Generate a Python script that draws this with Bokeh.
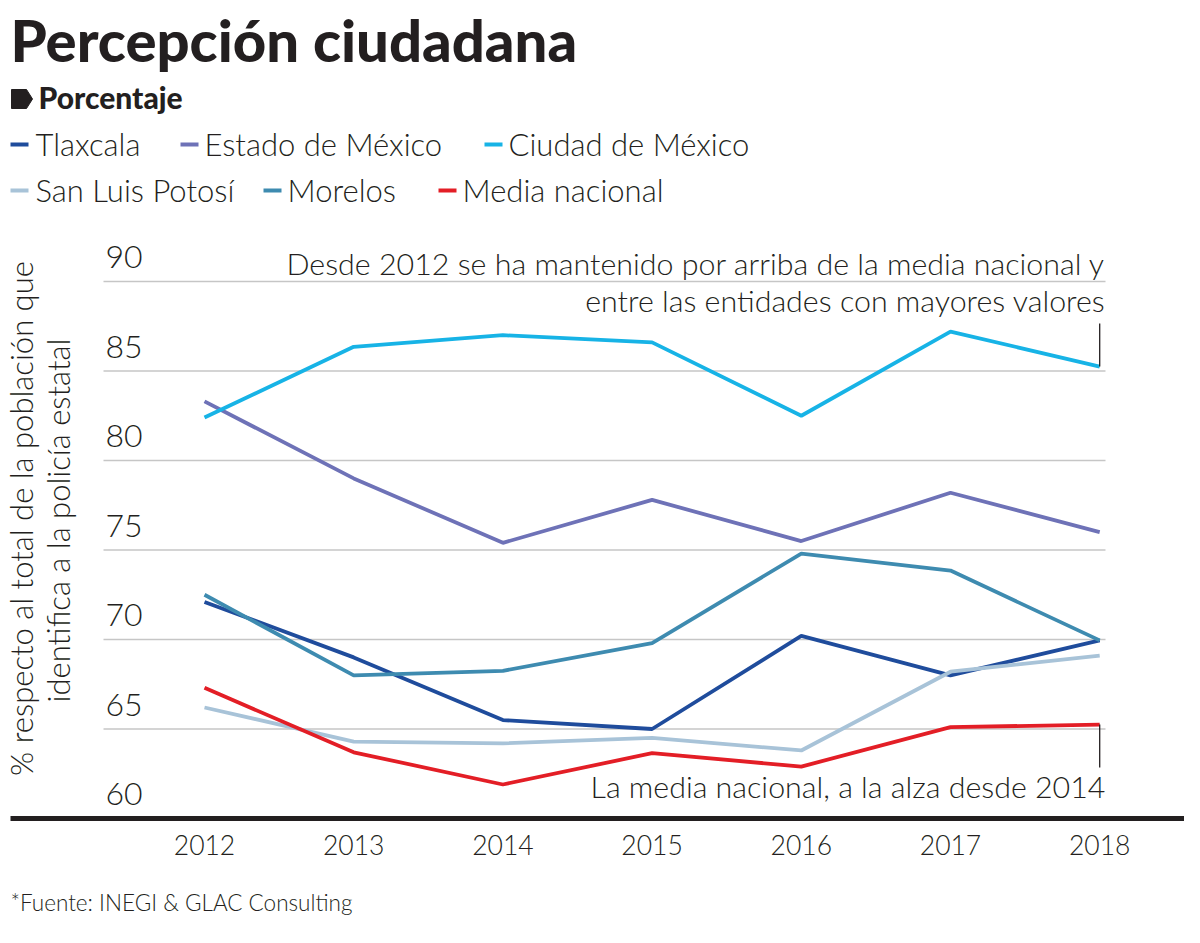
from bokeh.plotting import figure
from bokeh.models import Range1d
from bokeh.core.properties import value
from bokeh.embed import file_html
from bokeh.resources import INLINE
import math

# ---------------- data ----------------
years = [2012, 2013, 2014, 2015, 2016, 2017, 2018]
tlaxcala = [72.1, 69.0, 65.5, 65.0, 70.2, 68.0, 69.95]
estado_mexico = [83.3, 79.0, 75.4, 77.8, 75.5, 78.2, 76.0]
ciudad_mexico = [82.4, 86.35, 87.0, 86.6, 82.5, 87.2, 85.25]
san_luis_potosi = [66.2, 64.3, 64.2, 64.5, 63.8, 68.2, 69.1]
morelos = [72.5, 68.0, 68.25, 69.8, 74.8, 73.85, 69.95]
media_nacional = [67.3, 63.7, 61.9, 63.65, 62.9, 65.1, 65.25]

series_names = ["Tlaxcala", "Estado de México", "Ciudad de México",
                "San Luis Potosí", "Morelos", "Media nacional"]
series_values = [tlaxcala, estado_mexico, ciudad_mexico,
                 san_luis_potosi, morelos, media_nacional]
series_colors = ["#1f4c9c", "#6e72b7", "#17b3e6", "#a8c3d8", "#3e8bb0", "#e31e26"]

y_ticks = [60, 65, 70, 75, 80, 85, 90]
year_labels = [str(y) for y in years]

title = "Percepción ciudadana"
subtitle = "Porcentaje"
y_title_1 = "% respecto al total de la población que"
y_title_2 = "identifica a la policía estatal"
note_top_1 = "Desde 2012 se ha mantenido por arriba de la media nacional y"
note_top_2 = "entre las entidades con mayores valores"
note_bottom = "La media nacional, a la alza desde 2014"
source = "*Fuente: INEGI & GLAC Consulting"

# ---------------- layout helpers (image pixel -> data) ----------------
X_2012 = 204.0
X_STEP = 149.2
Y_90 = 281.0
Y_STEP = 17.9
ORIGIN = 0
K = 0.41  # baseline correction factor for svg text


def dx(px):
    return 2012 + (px - X_2012) / X_STEP


def dy(py):
    return 90 - (py - Y_90) / Y_STEP


def by(py, size, k=K):
    """data y for a text whose alphabetic baseline should sit at image y py"""
    return dy(py - k * size)


W, H = 1184, 927
FONT = value("Lato Light")
BOLD = value("Lato Black")
TXT = "#231f20"

p = figure(width=W, height=H,
           x_range=Range1d(dx(ORIGIN), dx(ORIGIN + W)),
           y_range=Range1d(dy(ORIGIN + H), dy(ORIGIN)),
           x_axis_location=None, y_axis_location=None,
           output_backend="svg", toolbar_location=None,
           min_border=0, background_fill_color="white",
           border_fill_color="white")
p.outline_line_color = None
p.grid.visible = False

# gridlines
grid_vals = [t for t in y_ticks if t > 60]
p.segment(x0=[dx(103)] * len(grid_vals), x1=[dx(1105)] * len(grid_vals),
          y0=grid_vals, y1=grid_vals, line_color="#c6c6c6", line_width=1.5)

# tick labels
TS = 32
p.text(x=[dx(105)] * len(y_ticks), y=y_ticks, text=[str(t) for t in y_ticks],
       y_offset=-11 - K * TS, text_font=FONT, text_font_size=f"{TS}px", text_color=TXT,
       text_baseline="alphabetic", text_align="left")

# series lines
for name, vals, col in zip(series_names, series_values, series_colors):
    p.line(years, vals, line_color=col, line_width=3.8)

# annotation leader lines
p.segment(x0=[years[-1]], x1=[years[-1]], y0=[ciudad_mexico[-1]], y1=[dy(323)],
          line_color=TXT, line_width=1.3)
p.segment(x0=[years[-1]], x1=[years[-1]], y0=[media_nacional[-1]], y1=[dy(767)],
          line_color=TXT, line_width=1.3)

# bottom axis line
p.segment(x0=[dx(10)], x1=[dx(1190)], y0=[60], y1=[60], line_color=TXT, line_width=5)

# year labels
YS = 26.5
p.text(x=years, y=[60] * len(years), text=year_labels, y_offset=37 - K * YS,
       text_font=FONT, text_font_size=f"{YS}px", text_color=TXT,
       text_align="center", text_baseline="alphabetic")

# annotations
AS = 30.4
p.text(x=[dx(1105)] * 2, y=[by(275, AS), by(312, AS)], text=[note_top_1, note_top_2],
       text_font=FONT, text_font_size=f"{AS}px", text_color=TXT,
       text_align="right", text_baseline="alphabetic")
p.text(x=[dx(1105)], y=[by(798, AS)], text=[note_bottom],
       text_font=FONT, text_font_size=f"{AS}px", text_color=TXT,
       text_align="right", text_baseline="alphabetic")

# y-axis title (rotated)
p.text(x=[dx(20), dx(57.5)], y=[dy(518), dy(520)], text=[y_title_1, y_title_2],
       angle=math.pi / 2, text_font=FONT, text_font_size="31px", text_color=TXT,
       text_align="center", text_baseline="middle")

# title and subtitle
p.text(x=[dx(10)], y=[by(60, 58, 0.36)], text=[title], text_font=BOLD,
       text_font_size="58px", text_color=TXT,
       text_align="left", text_baseline="alphabetic")
icon_px = [(11, 89), (26, 89), (32, 98.5), (26, 108), (11, 108)]
p.patch([dx(a) for a, b in icon_px], [dy(b) for a, b in icon_px],
        fill_color=TXT, line_color=TXT, line_width=1)
p.text(x=[dx(38)], y=[by(107, 30, 0.36)], text=[subtitle], text_font=BOLD,
       text_font_size="30px", text_color=TXT,
       text_align="left", text_baseline="alphabetic")

# legend (two rows)
LS = 31
legend_pos = [(10, 144, 35), (180, 144, 204), (484, 144, 508),
              (10, 190, 35), (263, 190, 287), (438, 190, 462)]
for (x0, yy, xt), name, col in zip(legend_pos, series_names, series_colors):
    p.segment(x0=[dx(x0)], x1=[dx(x0 + 18)], y0=[dy(yy)], y1=[dy(yy)],
              line_color=col, line_width=4)
    p.text(x=[dx(xt)], y=[by(yy + 12, LS)], text=[name], text_font=FONT,
           text_font_size=f"{LS}px", text_color=TXT, text_align="left",
           text_baseline="alphabetic")

# source
SS = 22.5
p.text(x=[dx(10)], y=[by(911, SS)], text=[source], text_font=FONT,
       text_font_size=f"{SS}px", text_color=TXT, text_align="left",
       text_baseline="alphabetic")

open("out.html", "w").write(file_html(p, INLINE))
